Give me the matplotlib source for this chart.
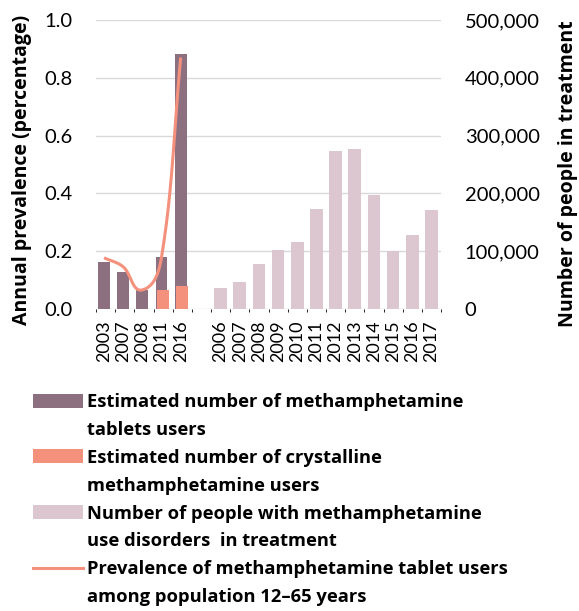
"""Methamphetamine users and treatment figure, redrawn with matplotlib."""

import matplotlib

matplotlib.use("Agg")
import matplotlib.pyplot as plt
import numpy as np
from matplotlib import font_manager
from matplotlib.lines import Line2D
from matplotlib.patches import Patch
from matplotlib.ticker import FuncFormatter, MultipleLocator

SURVEY_YEARS = ["2003", "2007", "2008", "2011", "2016"]
TABLET_USERS = [80800, 63500, 33000, 90500, 441000]
CRYSTAL_USERS = [0, 800, 800, 33000, 40000]
PREVALENCE = [0.177, 0.146, 0.066, 0.18, 0.87]

TREATMENT_YEARS = ["2006", "2007", "2008", "2009", "2010", "2011",
                   "2012", "2013", "2014", "2015", "2016", "2017"]
TREATMENT = [35800, 47300, 77900, 102000, 116000, 173000,
             272800, 277300, 197000, 100000, 128000, 170800]

DARK = "#8c7080"
SALMON = "#f4917d"
PINK = "#dcc6cf"
GRID = "#d9d9d9"


def bold_family():
    """First family with a real bold face installed."""
    for family in ("Open Sans", "Lato", "Roboto"):
        try:
            path = font_manager.findfont(
                font_manager.FontProperties(family=family, weight="bold"),
                fallback_to_default=False,
            )
        except ValueError:
            continue
        if "bold" in path.lower():
            return family
    return "DejaVu Sans"


def smooth(x, y, sx=19.2, sy=289.0, tension=0.35, steps=40):
    """Excel-style smoothed line: cubic Bezier segments whose control arms
    follow the neighbour direction and scale with the segment length
    (computed in approximate pixel units so the curve does not overshoot)."""
    p = np.column_stack((np.asarray(x, float) * sx, np.asarray(y, float) * sy))
    n = len(p)
    dirs = np.zeros_like(p)
    for i in range(n):
        a = p[max(i - 1, 0)]
        b = p[min(i + 1, n - 1)]
        d = b - a
        dirs[i] = d / np.hypot(*d)
    t = np.linspace(0, 1, steps)[:, None]
    pieces = []
    for i in range(n - 1):
        length = np.hypot(*(p[i + 1] - p[i]))
        c1 = p[i] + dirs[i] * length * tension
        c2 = p[i + 1] - dirs[i + 1] * length * tension
        seg = ((1 - t) ** 3 * p[i] + 3 * (1 - t) ** 2 * t * c1
               + 3 * (1 - t) * t ** 2 * c2 + t ** 3 * p[i + 1])
        pieces.append(seg)
    curve = np.vstack(pieces)
    return curve[:, 0] / sx, curve[:, 1] / sy


def main():
    plt.rcParams.update({"font.family": ["Lato", "DejaVu Sans"]})
    bold = [bold_family(), "DejaVu Sans"]
    fig = plt.figure(figsize=(5.79, 6.11), dpi=100)
    ax = fig.add_axes([0.1658, 0.4943, 0.5959, 0.4730])
    ax2 = ax.twinx()

    n_survey = len(SURVEY_YEARS)
    x_survey = np.arange(n_survey)
    x_treat = np.arange(len(TREATMENT_YEARS)) + n_survey + 1

    ax2.bar(x_survey - 0.08, TABLET_USERS, width=0.62, color=DARK, zorder=2)
    ax2.bar(x_survey, CRYSTAL_USERS, width=0.64, color=SALMON, zorder=3)
    ax2.bar(x_treat, TREATMENT, width=0.66, color=PINK, zorder=2)

    lx, ly = smooth(x_survey - 0.08, PREVALENCE)
    ax.plot(lx, ly, color=SALMON, linewidth=2.2, solid_capstyle="butt", zorder=4)

    ax.set_zorder(ax2.get_zorder() + 1)
    ax.patch.set_visible(False)

    n_slots = x_treat[-1] + 1
    ax.set_xlim(-0.5, n_slots - 0.5)
    ax.set_ylim(0, 1.0)
    ax2.set_ylim(0, 500000)
    ax.yaxis.set_major_locator(MultipleLocator(0.2))
    ax.yaxis.set_major_formatter(FuncFormatter(lambda v, _: f"{v:.1f}"))
    ax2.yaxis.set_major_locator(MultipleLocator(100000))
    ax2.yaxis.set_major_formatter(FuncFormatter(lambda v, _: f"{v:,.0f}"))

    ax.set_xticks(np.concatenate((x_survey - 0.08, x_treat)),
                  SURVEY_YEARS + TREATMENT_YEARS, rotation=90, fontsize=13)

    # gridlines drawn behind the bars on the twin axis
    ax2.set_xticks(np.arange(-0.5, n_slots, 1.0), minor=True)
    ax2.grid(which="minor", axis="x", color=GRID, linewidth=1.0, zorder=0)
    ax2.grid(which="major", axis="y", color=GRID, linewidth=1.0, zorder=0)
    ax2.set_axisbelow(True)

    for axis in (ax, ax2):
        for spine in axis.spines.values():
            spine.set_visible(False)
    ax.tick_params(axis="x", length=0, pad=8)
    ax.tick_params(axis="y", length=0, pad=17, labelsize=14.5)
    ax2.tick_params(axis="y", length=0, pad=17, labelsize=14.5)
    ax2.tick_params(axis="x", which="both", length=0)

    fig.text(22 / 579, 1 - 170 / 611, "Annual prevalence (percentage)",
             rotation=90, ha="center", va="center", fontsize=14,
             fontweight="bold", family=bold)
    fig.text(568 / 579, 1 - 174 / 611, "Number of people in treatment",
             rotation=90, ha="center", va="center", fontsize=14,
             fontweight="bold", family=bold)

    blank = Patch(facecolor="none", edgecolor="none")
    handles = [
        Patch(facecolor=DARK), blank,
        Patch(facecolor=SALMON), blank,
        Patch(facecolor=PINK), blank,
        Line2D([], [], color=SALMON, linewidth=2.2), blank,
    ]
    labels = [
        "Estimated number of methamphetamine", "tablets users",
        "Estimated number of crystalline", "methamphetamine users",
        "Number of people with methamphetamine", "use disorders  in treatment",
        "Prevalence of methamphetamine tablet users", "among population 12\u201365 years",
    ]
    fig.legend(handles, labels, loc="upper left",
               bbox_to_anchor=(33 / 579, 1 - 393 / 611),
               frameon=False, borderpad=0, borderaxespad=0,
               handlelength=2.7, handleheight=0.8, handletextpad=0.25,
               labelspacing=0.54,
               prop={"size": 13.2, "weight": "bold", "family": bold})

    fig.savefig("out.png", dpi=100)
    plt.close(fig)


if __name__ == "__main__":
    main()
